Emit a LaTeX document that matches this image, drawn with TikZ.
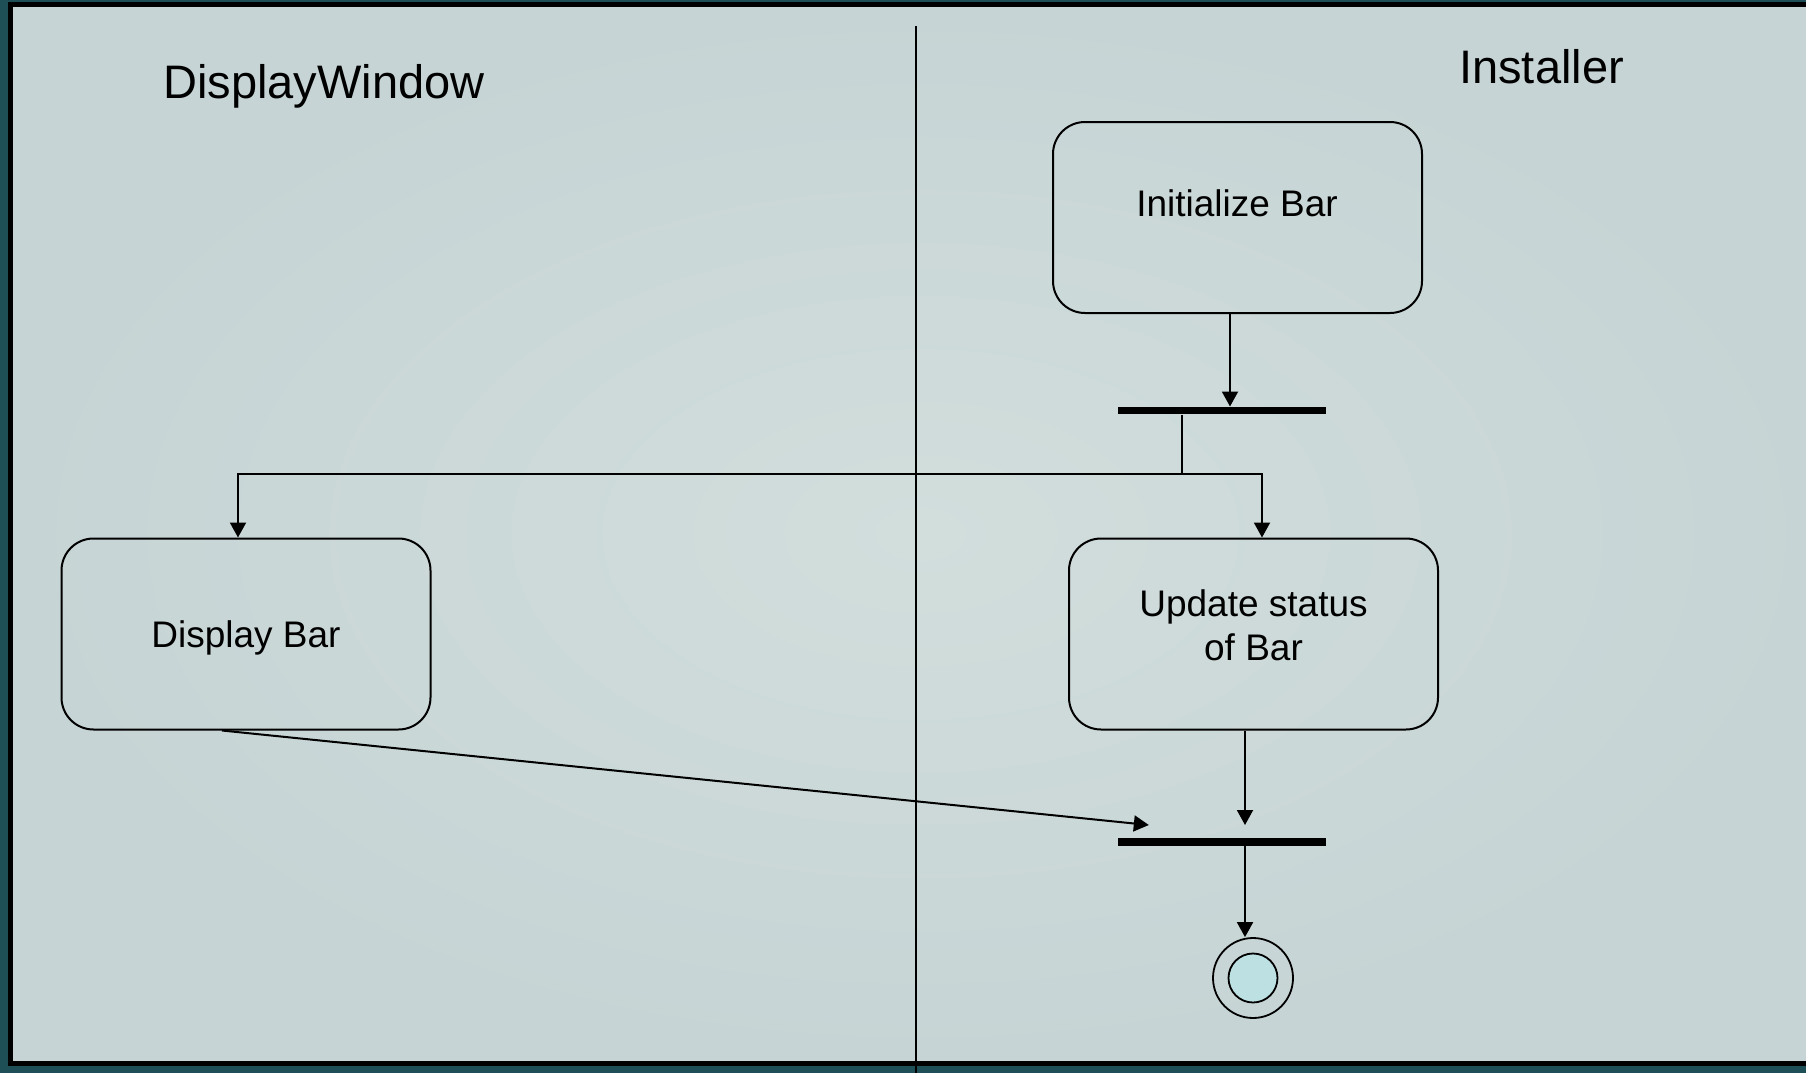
\documentclass[tikz,border=0pt]{standalone}
\usepackage{fontspec}
\setmainfont{Liberation Sans}
\usetikzlibrary{arrows.meta,positioning,calc}

\definecolor{slide}{RGB}{30,78,86}
\definecolor{panelin}{RGB}{209,222,220}
\definecolor{panelout}{RGB}{199,212,213}
\definecolor{finalfill}{RGB}{189,224,227}

\tikzset{
  activity/.style={draw=black, line width=2pt, rounded corners=32pt,
    minimum width=369pt, minimum height=191pt, inner sep=0pt},
  syncbar/.style={fill=black, minimum width=208pt, minimum height=7.6pt, inner sep=0pt},
  flow/.style={line width=2pt, -{Triangle[length=15pt,width=16pt]}},
  plainflow/.style={line width=2pt},
  label/.style={inner sep=0pt, anchor=base, font=\fontsize{37}{44}\selectfont, align=center},
  lane/.style={inner sep=0pt, anchor=base, font=\fontsize{47}{56}\selectfont},
}

\begin{document}
\begin{tikzpicture}[x=1pt, y=-1pt]
  \useasboundingbox (0,0) rectangle (1806,1073);
  % slide background and framed panel
  \fill[slide] (0,0) rectangle (1806,1073);
  \fill[inner color=panelin, outer color=panelout] (10.5,4.7) rectangle (1830,1063);
  \draw[line width=5pt] (1830,4.7) -- (10.5,4.7) -- (10.5,1063) -- (1830,1063);

  % swimlane divider
  \draw[line width=1.8pt] (916,26) -- (916,1073);

  % swimlane titles
  \node[lane] (laneA) at (324,98) {DisplayWindow};
  \node[lane] (laneB) at (1541.5,83) {Installer};

  % activities
  \node[activity] (init) at (1237.5,217.5) {};
  \node[label] (initT) at (1237,216) {Initialize Bar};

  \node[activity] (disp) at (246,634) {};
  \node[label] (dispT) at (246,647) {Display Bar};

  \node[activity] (upd) at (1253.5,634) {};
  \node[label] (updT) at (1253.5,660) {Update status\\of Bar};

  % fork and join bars
  \node[syncbar] (fork) at (1222,410.5) {};
  \node[syncbar] (join) at (1222,842) {};

  % final state
  \node[draw, circle, line width=1.8pt, minimum size=80pt, inner sep=0pt] (final) at (1253,978) {};
  \node[draw, circle, line width=1.8pt, fill=finalfill, minimum size=49pt, inner sep=0pt] (finalIn) at (final.center) {};

  % control flow
  \draw[flow] ([xshift=-7.5pt]init.south) -- ([xshift=-7.5pt]init.south |- fork.north);

  \coordinate (split) at (1182,474);
  \draw[plainflow] (fork.south -| split) -- (split);
  \draw[flow] (split) -| ([xshift=-8pt]disp.north);
  \draw[flow] (split) -| ([xshift=8.5pt]upd.north);

  \coordinate (joinTip) at ([xshift=31pt,yshift=13pt]join.north west);
  \draw[flow] ([xshift=-24pt]disp.south) -- (joinTip);
  \draw[flow] ([xshift=-8.5pt]upd.south) -- ([xshift=-8.5pt,yshift=13pt]upd.south |- join.north);

  \draw[flow] ([xshift=23pt]join.south) -- ([xshift=23pt]join.south |- final.north);
\end{tikzpicture}
\end{document}
